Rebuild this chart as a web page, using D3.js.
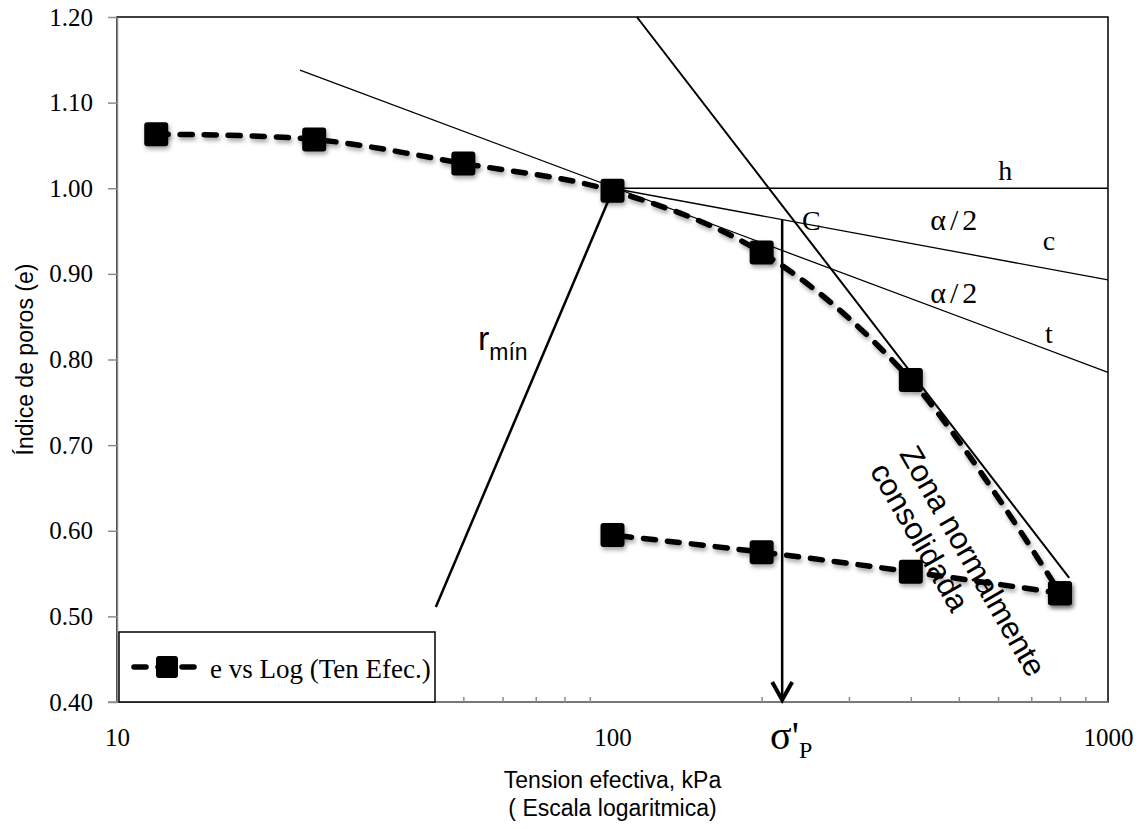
<!DOCTYPE html>
<html>
<head>
<meta charset="utf-8">
<script src="https://cdn.jsdelivr.net/npm/d3@7"></script>
<style>
  body { margin: 0; background: #fff; }
  svg { display: block; }
  .tick text { font-family: "Liberation Serif", serif; font-size: 25px; fill: #000; }
</style>
</head>
<body>
<div id="container"></div>
<script>
// loading branch (kPa, void ratio)
const loadStress = [12, 25, 50, 100, 200, 400, 800];
const loadVoid = [1.063, 1.057, 1.029, 0.997, 0.925, 0.776, 0.527];
// unloading branch
const unloadStress = [800, 400, 200, 100];
const unloadVoid = [0.527, 0.552, 0.575, 0.595];

const yTicks = [0.4, 0.5, 0.6, 0.7, 0.8, 0.9, 1.0, 1.1, 1.2];
const xLabels = [10, 100, 1000];
const xMinor = [20, 30, 40, 50, 60, 70, 80, 90, 200, 300, 400, 500, 600, 700, 800, 900];

// Casagrande construction lines [stress, e] pairs
const lineT = [[23.4, 1.138], [1000, 0.785]];
const lineC = [[100, 1.0], [1000, 0.893]];
const lineH = [[100, 1.0], [1000, 1.0]];
const lineNC = [[112, 1.2], [835, 0.545]];
const lineR = [[44, 0.511], [100, 0.997]];
const sigmaP = 220;
const sigmaPe = 0.963;

const W = 1148, H = 829;
const margin = { top: 17, right: 40, bottom: 127, left: 117 };

const svg = d3
  .select("#container")
  .append("svg")
  .attr("width", W)
  .attr("height", H);

const defs = svg.append("defs");
const shadow = defs.append("filter").attr("id", "shadow")
  .attr("x", "-50%").attr("y", "-50%").attr("width", "200%").attr("height", "200%");
shadow.append("feDropShadow")
  .attr("dx", 1.5).attr("dy", 3).attr("stdDeviation", 2)
  .attr("flood-color", "#000").attr("flood-opacity", 0.35);

const x = d3.scaleLog().domain([10, 1000]).range([margin.left, W - margin.right]);
const y = d3.scaleLinear().domain([0.4, 1.2]).range([H - margin.bottom, margin.top]);

// plot frame
svg.append("rect")
  .attr("x", x(10)).attr("y", y(1.2))
  .attr("width", x(1000) - x(10)).attr("height", y(0.4) - y(1.2))
  .attr("fill", "none").attr("stroke", "#000").attr("stroke-width", 1.5);

// axes
const yAxis = svg.append("g")
  .attr("transform", `translate(${x(10)},0)`)
  .call(d3.axisLeft(y).tickValues(yTicks).tickFormat(d3.format(".2f"))
    .tickSizeInner(9).tickSizeOuter(0).tickPadding(15));
yAxis.selectAll(".domain, line").attr("stroke", "#8c8c8c").attr("stroke-width", 1.5);

const xMinorAxis = svg.append("g")
  .attr("transform", `translate(0,${y(0.4)})`)
  .call(d3.axisBottom(x).tickValues(xMinor).tickFormat("").tickSizeInner(-5).tickSizeOuter(0));
xMinorAxis.selectAll("line").attr("stroke", "#8c8c8c").attr("stroke-width", 1.5);
xMinorAxis.select(".domain").remove();

const xAxis = svg.append("g")
  .attr("transform", `translate(0,${y(0.4)})`)
  .call(d3.axisBottom(x).tickValues(xLabels).tickFormat(d3.format("d"))
    .tickSizeInner(0).tickSizeOuter(0).tickPadding(26));
xAxis.select(".domain").attr("stroke", "#8c8c8c").attr("stroke-width", 1.5)
  .attr("d", `M${x(10) - 9},0H${x(1000)}`);

// axis titles
svg.append("text")
  .attr("transform", `translate(33,${(y(0.4) + y(1.2)) / 2}) rotate(-90)`)
  .attr("text-anchor", "middle")
  .style("font-family", "'Liberation Sans', Arial, sans-serif")
  .style("font-size", "23px")
  .text("Índice de poros (e)");

const xTitle = svg.append("text")
  .attr("text-anchor", "middle")
  .style("font-family", "'Liberation Sans', Arial, sans-serif")
  .style("font-size", "23px");
xTitle.append("tspan").attr("x", (x(10) + x(1000)) / 2).attr("y", 788).text("Tension efectiva, kPa");
xTitle.append("tspan").attr("x", (x(10) + x(1000)) / 2).attr("y", 816).text("( Escala logaritmica)");

// construction lines
const seg = (pts, w) =>
  svg.append("line")
    .attr("x1", x(pts[0][0])).attr("y1", y(pts[0][1]))
    .attr("x2", x(pts[1][0])).attr("y2", y(pts[1][1]))
    .attr("stroke", "#000").attr("stroke-width", w);

seg(lineT, 1.3);
seg(lineC, 1.3);
seg(lineH, 1.3);
seg(lineNC, 2);
seg(lineR, 2.5);

// arrow head of r_min (mostly under the marker)
const rx2 = x(lineR[1][0]), ry2 = y(lineR[1][1]);
const ang = Math.atan2(ry2 - y(lineR[0][1]), rx2 - x(lineR[0][0]));
const ah = 11;
svg.append("path")
  .attr("d", `M${rx2 - ah * Math.cos(ang - 0.5)},${ry2 - ah * Math.sin(ang - 0.5)}L${rx2},${ry2}L${rx2 - ah * Math.cos(ang + 0.5)},${ry2 - ah * Math.sin(ang + 0.5)}`)
  .attr("fill", "none").attr("stroke", "#000").attr("stroke-width", 3);

// sigma'p vertical arrow
svg.append("line")
  .attr("x1", x(sigmaP)).attr("y1", y(sigmaPe))
  .attr("x2", x(sigmaP)).attr("y2", y(0.4) - 2)
  .attr("stroke", "#000").attr("stroke-width", 2.5);
svg.append("path")
  .attr("d", `M${x(sigmaP) - 10},${y(0.4) - 20}L${x(sigmaP)},${y(0.4) - 2}L${x(sigmaP) + 10},${y(0.4) - 20}`)
  .attr("fill", "none").attr("stroke", "#000").attr("stroke-width", 4)
  .attr("stroke-linejoin", "miter");

// data series
const line = d3.line()
  .x((d) => x(d[0]))
  .y((d) => y(d[1]))
  .curve(d3.curveCatmullRom.alpha(0.5));

const loadPts = loadStress.map((s, i) => [s, loadVoid[i]]);
const unloadPts = unloadStress.map((s, i) => [s, unloadVoid[i]]);

[loadPts, unloadPts].forEach((pts) => {
  svg.append("path")
    .datum(pts)
    .attr("d", line)
    .attr("fill", "none")
    .attr("stroke", "#000")
    .attr("stroke-width", 5.5)
    .attr("stroke-dasharray", "12 12")
    .attr("stroke-linecap", "round")
    .attr("filter", "url(#shadow)");
});

const mk = 24;
svg.selectAll(".marker")
  .data(loadPts.concat(unloadPts))
  .enter()
  .append("rect")
  .attr("class", "marker")
  .attr("x", (d) => x(d[0]) - mk / 2)
  .attr("y", (d) => y(d[1]) - mk / 2)
  .attr("width", mk)
  .attr("height", mk)
  .attr("rx", 3)
  .attr("fill", "#000")
  .attr("filter", "url(#shadow)");

// annotations
const serif = (t, xv, yv, size, sp) =>
  svg.append("text")
    .attr("x", x(xv)).attr("y", y(yv))
    .attr("text-anchor", "middle")
    .style("font-family", "'Liberation Serif', serif")
    .style("font-size", size + "px")
    .style("letter-spacing", (sp || 0) + "px")
    .text(t);

serif("h", 620, 1.01, 28);
serif("α/2", 493, 0.951, 30, 4);
serif("c", 760, 0.928, 28);
serif("α/2", 493, 0.866, 30, 4);
serif("t", 760, 0.819, 28);
serif("C", 252, 0.951, 28);

const rmin = svg.append("text")
  .attr("x", x(53.5)).attr("y", y(0.811))
  .style("font-family", "'Liberation Sans', Arial, sans-serif")
  .style("font-size", "34px");
rmin.append("tspan").text("r");
rmin.append("tspan").attr("dy", 10).style("font-size", "23px").text("mín");

const sig = svg.append("text")
  .attr("x", x(208)).attr("y", 749)
  .style("font-family", "'Liberation Serif', serif")
  .style("font-size", "40px");
sig.append("tspan").text("σ'");
sig.append("tspan").attr("dy", 9).style("font-size", "24px").text("P");

const zona = svg.append("text")
  .attr("transform", `translate(${x(378)},${y(0.69)}) rotate(60)`)
  .style("font-family", "'Liberation Sans', Arial, sans-serif")
  .style("font-size", "31px");
zona.append("tspan").attr("x", 0).attr("y", 0).text("Zona normalmente");
zona.append("tspan").attr("x", 0).attr("y", 34).text("consolidada");

// legend
const lg = svg.append("g");
lg.append("rect")
  .attr("x", 119).attr("y", 632).attr("width", 316).attr("height", 70)
  .attr("fill", "#fff").attr("stroke", "#000").attr("stroke-width", 1.5);
lg.append("line")
  .attr("x1", 134).attr("y1", 667).attr("x2", 198).attr("y2", 667)
  .attr("stroke", "#000").attr("stroke-width", 5.5)
  .attr("stroke-dasharray", "12 12").attr("stroke-linecap", "round");
lg.append("rect")
  .attr("x", 156).attr("y", 656).attr("width", 22).attr("height", 22)
  .attr("rx", 3).attr("fill", "#000");
lg.append("text")
  .attr("x", 210).attr("y", 678)
  .style("font-family", "'Liberation Serif', serif")
  .style("font-size", "27px")
  .text("e vs Log (Ten Efec.)");
</script>
</body>
</html>
